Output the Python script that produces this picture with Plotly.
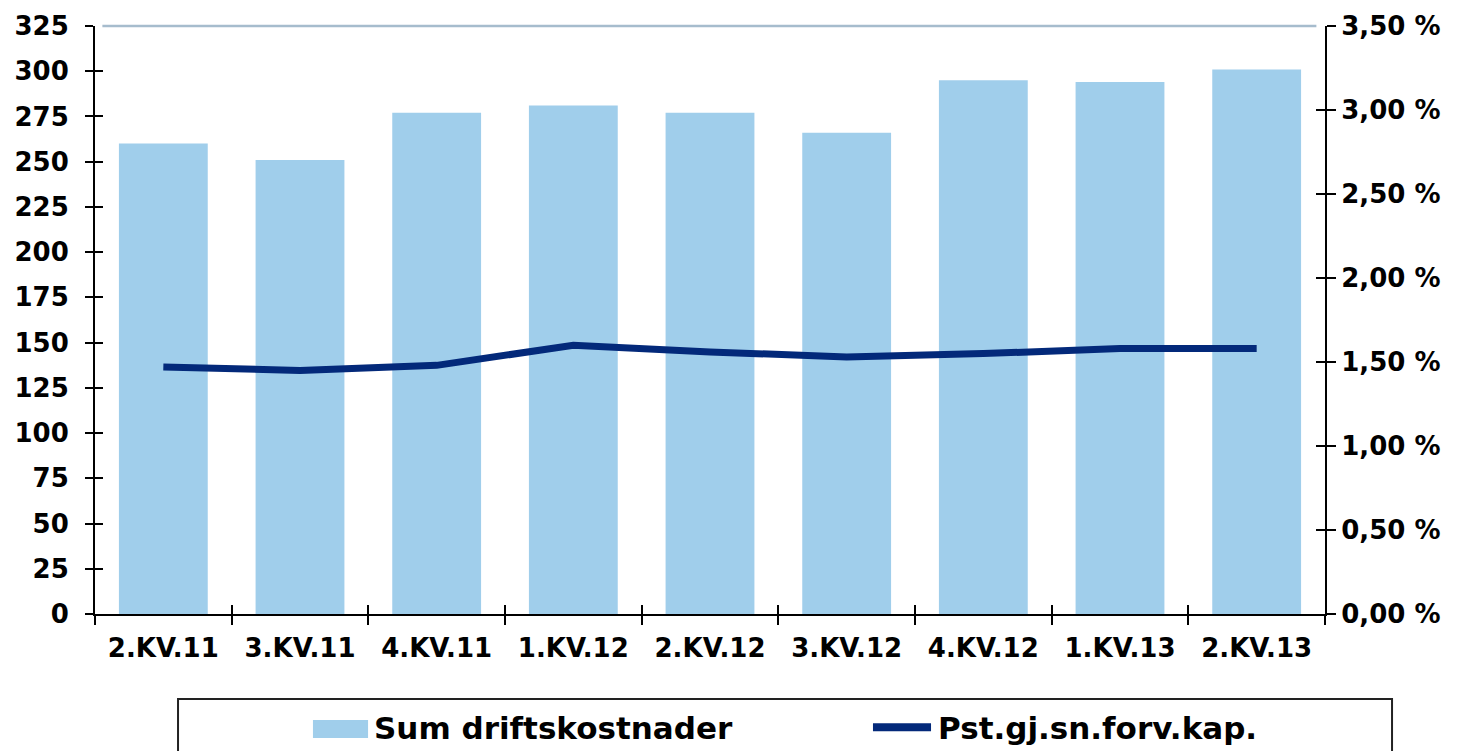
import plotly.graph_objects as go

categories = ["2.KV.11", "3.KV.11", "4.KV.11", "1.KV.12", "2.KV.12",
              "3.KV.12", "4.KV.12", "1.KV.13", "2.KV.13"]
driftskostnader = [260, 251, 277, 281, 277, 266, 295, 294, 301]
pst_forv_kap = [1.47, 1.45, 1.48, 1.60, 1.56, 1.53, 1.55, 1.58, 1.58]

left_ticks = list(range(0, 326, 25))
right_tickvals = [0, 0.5, 1.0, 1.5, 2.0, 2.5, 3.0, 3.5]
right_ticktext = ["0,00 %", "0,50 %", "1,00 %", "1,50 %", "2,00 %",
                  "2,50 %", "3,00 %", "3,50 %"]

BAR_COLOR = "#A0CEEB"
LINE_COLOR = "#03297A"
FONT = dict(family="DejaVu Sans", size=26, color="black", weight="bold")

fig = go.Figure()
fig.add_trace(go.Bar(x=categories, y=driftskostnader, name="Sum driftskostnader",
                     marker=dict(color=BAR_COLOR, line=dict(width=0)),
                     xaxis="x", yaxis="y", showlegend=False))
fig.add_trace(go.Scatter(x=categories, y=pst_forv_kap, name="Pst.gj.sn.forv.kap.",
                         mode="lines", line=dict(color=LINE_COLOR, width=7),
                         xaxis="x", yaxis="y2", showlegend=False))
# invisible helpers so the inside-tick overlay axes are drawn
fig.add_trace(go.Scatter(x=categories, y=driftskostnader, mode="lines",
                         line=dict(width=0), opacity=0, hoverinfo="skip",
                         xaxis="x2", yaxis="y3", showlegend=False))
fig.add_trace(go.Scatter(x=categories, y=pst_forv_kap, mode="lines",
                         line=dict(width=0), opacity=0, hoverinfo="skip",
                         xaxis="x2", yaxis="y4", showlegend=False))

axis_common = dict(showgrid=False, zeroline=False, tickcolor="black", tickwidth=2)

fig.update_layout(
    width=1464, height=751,
    margin=dict(l=95, r=139, t=26, b=137),
    paper_bgcolor="white", plot_bgcolor="white",
    bargap=0.35,
    font=FONT,
    xaxis=dict(type="category", categoryarray=categories, range=[-0.5, 8.5],
               tickson="boundaries", ticks="outside", ticklen=9,
               showline=True, linecolor="black", linewidth=2,
               tickfont=FONT, ticklabelstandoff=10, **axis_common),
    xaxis2=dict(type="category", categoryarray=categories, range=[-0.5, 8.5],
                overlaying="x", anchor="y", side="bottom",
                tickson="boundaries", ticks="inside", ticklen=9,
                showticklabels=False, showline=False, **axis_common),
    yaxis=dict(range=[0, 325], tickvals=left_ticks, ticks="outside", ticklen=8,
               showline=True, linecolor="black", linewidth=2,
               tickfont=FONT, ticklabelstandoff=11, **axis_common),
    yaxis2=dict(range=[0, 3.5], tickvals=right_tickvals, ticktext=right_ticktext,
                overlaying="y", side="right", anchor="x",
                ticks="outside", ticklen=9,
                showline=True, linecolor="black", linewidth=2,
                tickfont=FONT, ticklabelstandoff=0, **axis_common),
    yaxis3=dict(range=[0, 325], tickvals=left_ticks, overlaying="y", side="left",
                anchor="x", ticks="inside", ticklen=8, showticklabels=False,
                showline=False, **axis_common),
    yaxis4=dict(range=[0, 3.5], tickvals=right_tickvals, overlaying="y", side="right",
                anchor="x", ticks="inside", ticklen=9, showticklabels=False,
                showline=False, **axis_common),
)

# top gridline (at the 325 level, top edge of the plot area)
fig.add_shape(type="line", xref="paper", yref="paper", x0=0.006, x1=0.993,
              y0=1, y1=1, line=dict(color="#A6BCCD", width=2.5), layer="above")

# legend box (custom, to match the reference layout)
fig.add_shape(type="rect", xref="paper", yref="paper", x0=0.0675, x1=1.0545,
              y0=-0.26, y1=-0.1446, line=dict(color="#222222", width=2),
              fillcolor="rgba(0,0,0,0)")
fig.add_shape(type="rect", xref="paper", yref="paper", x0=0.1772, x1=0.2220,
              y0=-0.2109, y1=-0.1803, line=dict(width=0), fillcolor=BAR_COLOR)
fig.add_shape(type="line", xref="paper", yref="paper", x0=0.6325, x1=0.6797,
              y0=-0.1927, y1=-0.1927, line=dict(color=LINE_COLOR, width=8))
LEG_FONT = dict(family="DejaVu Sans", size=31, color="black", weight="bold")
fig.add_annotation(text="Sum driftskostnader", xref="paper", yref="paper",
                   x=0.2252, y=-0.1940, xanchor="left", yanchor="middle",
                   showarrow=False, font=LEG_FONT)
fig.add_annotation(text="Pst.gj.sn.forv.kap.", xref="paper", yref="paper",
                   x=0.6837, y=-0.1940, xanchor="left", yanchor="middle",
                   showarrow=False, font=LEG_FONT)

fig.write_html("out.html",
               config={"displayModeBar": False},
               post_script="document.body.style.margin='0';document.body.style.overflow='hidden';")
